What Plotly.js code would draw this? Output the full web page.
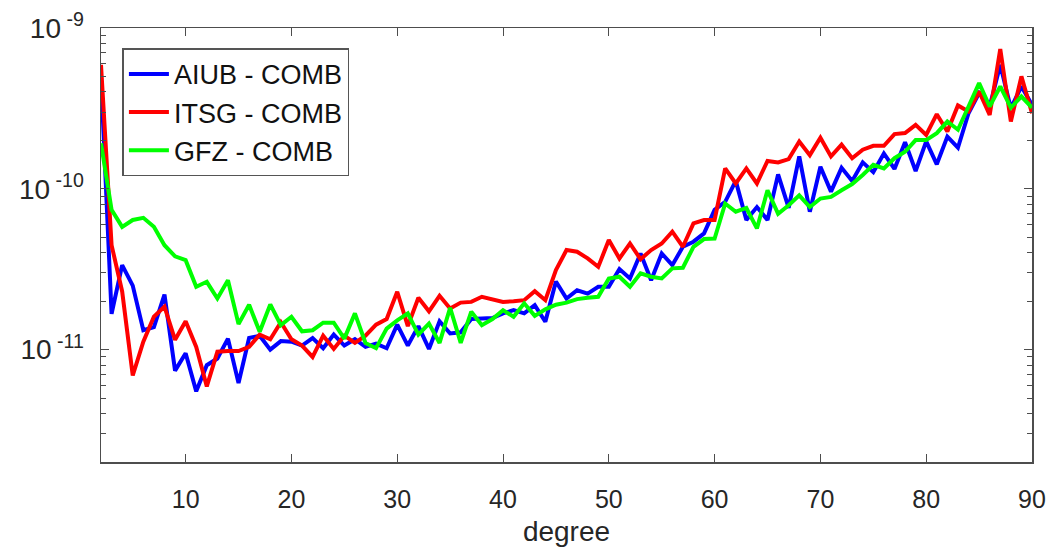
<!DOCTYPE html>
<html>
<head>
<meta charset="utf-8">
<script src="https://cdn.plot.ly/plotly-3.0.1.min.js"></script>
<style>html,body{margin:0;padding:0;background:#fff;}#chart{width:1048px;height:549px;}</style>
</head>
<body>
<div id="chart"></div>
<script>
const degrees = [];
for (let d = 2; d <= 90; d++) degrees.push(d);

const seriesNames = ["AIUB - COMB", "ITSG - COMB", "GFZ - COMB"];
const seriesColors = ["#0000ff", "#ff0000", "#00ff00"];

const aiub = [
  5.0e-10, 1.67e-11, 3.35e-11, 2.5e-11, 1.32e-11, 1.38e-11, 2.2e-11, 7.4e-12, 9.5e-12,
  5.5e-12, 8.0e-12, 8.8e-12, 1.17e-11, 6.2e-12, 1.18e-11, 1.22e-11, 1.0e-11, 1.13e-11,
  1.12e-11, 1.06e-11, 1.18e-11, 1.02e-11, 1.24e-11, 1.06e-11, 1.16e-11, 1.04e-11, 1.09e-11,
  1.02e-11, 1.43e-11, 1.06e-11, 1.40e-11, 1.01e-11, 1.5e-11, 1.26e-11, 1.28e-11, 1.55e-11,
  1.56e-11, 1.57e-11, 1.68e-11, 1.76e-11, 1.68e-11, 1.89e-11, 1.49e-11, 2.65e-11, 2.08e-11,
  2.34e-11, 2.23e-11, 2.46e-11, 2.46e-11, 3.17e-11, 2.77e-11, 3.96e-11, 2.7e-11, 3.96e-11,
  3.35e-11, 4.36e-11, 4.69e-11, 5.28e-11, 7.4e-11, 8.3e-11, 1.12e-10, 6.4e-11, 7.7e-11,
  6.4e-11, 1.23e-10, 7.6e-11, 1.59e-10, 7.2e-11, 1.37e-10, 9.6e-11, 1.35e-10, 1.12e-10,
  1.46e-10, 1.27e-10, 1.66e-10, 1.33e-10, 1.95e-10, 1.29e-10, 1.97e-10, 1.42e-10, 2.11e-10,
  1.8e-10, 2.95e-10, 3.94e-10, 3.25e-10, 5.9e-10, 3.17e-10, 4.33e-10, 3.33e-10
];

const itsg = [
  5.9e-10, 4.46e-11, 2.3e-11, 6.9e-12, 1.12e-11, 1.6e-11, 1.85e-11, 1.15e-11, 1.5e-11,
  1.04e-11, 5.9e-12, 9.7e-12, 9.8e-12, 9.8e-12, 1.04e-11, 1.24e-11, 1.16e-11, 1.48e-11,
  1.16e-11, 1.06e-11, 9.0e-12, 1.22e-11, 1.01e-11, 1.22e-11, 1.1e-11, 1.22e-11, 1.43e-11,
  1.55e-11, 2.29e-11, 1.40e-11, 2.1e-11, 1.73e-11, 2.16e-11, 1.8e-11, 1.96e-11, 1.98e-11,
  2.13e-11, 2.06e-11, 1.98e-11, 2.0e-11, 2.03e-11, 2.31e-11, 2.03e-11, 3.12e-11, 4.16e-11,
  4.06e-11, 3.69e-11, 3.27e-11, 4.8e-11, 3.69e-11, 4.57e-11, 3.65e-11, 4.16e-11, 4.57e-11,
  5.41e-11, 4.36e-11, 6.1e-11, 6.4e-11, 6.4e-11, 1.34e-10, 1.08e-10, 1.34e-10, 1.08e-10,
  1.49e-10, 1.46e-10, 1.53e-10, 1.97e-10, 1.62e-10, 2.08e-10, 1.59e-10, 1.88e-10, 1.55e-10,
  1.75e-10, 1.85e-10, 1.85e-10, 2.19e-10, 2.22e-10, 2.5e-10, 2.16e-10, 2.91e-10, 2.27e-10,
  3.3e-10, 3.03e-10, 4.03e-10, 2.88e-10, 7.4e-10, 2.62e-10, 5.0e-10, 2.95e-10
];

const gfz = [
  1.92e-10, 7.4e-11, 5.8e-11, 6.4e-11, 6.6e-11, 5.8e-11, 4.46e-11, 3.8e-11, 3.6e-11,
  2.46e-11, 2.64e-11, 2.08e-11, 2.7e-11, 1.44e-11, 1.9e-11, 1.29e-11, 1.91e-11, 1.42e-11,
  1.6e-11, 1.3e-11, 1.32e-11, 1.47e-11, 1.47e-11, 1.17e-11, 1.68e-11, 1.1e-11, 1.02e-11,
  1.35e-11, 1.52e-11, 1.68e-11, 1.24e-11, 1.45e-11, 1.1e-11, 1.82e-11, 1.1e-11, 1.72e-11,
  1.42e-11, 1.55e-11, 1.76e-11, 1.6e-11, 1.94e-11, 1.62e-11, 1.78e-11, 1.9e-11, 1.96e-11,
  2.06e-11, 2.1e-11, 2.13e-11, 2.77e-11, 2.84e-11, 2.46e-11, 2.98e-11, 2.84e-11, 2.77e-11,
  3.2e-11, 3.23e-11, 4.36e-11, 4.87e-11, 4.9e-11, 8.1e-11, 7.2e-11, 7.6e-11, 5.67e-11,
  9.8e-11, 7.0e-11, 7.9e-11, 9.1e-11, 7.7e-11, 8.7e-11, 8.9e-11, 9.8e-11, 1.07e-10,
  1.22e-10, 1.41e-10, 1.34e-10, 1.55e-10, 1.7e-10, 2.01e-10, 2.01e-10, 2.22e-10, 2.62e-10,
  2.33e-10, 3.25e-10, 4.54e-10, 3.25e-10, 4.33e-10, 3.2e-10, 3.75e-10, 3.2e-10
];

const xTickVals = [10, 20, 30, 40, 50, 60, 70, 80, 90];
const yTickVals = [1e-11, 1e-10, 1e-9];
const yTickText = ["10<sup> -11</sup>", "10<sup> -10</sup>", "10<sup> -9</sup>"];

const allSeries = [aiub, itsg, gfz];
const traces = allSeries.map((vals, i) => ({
  x: degrees,
  y: vals,
  type: "scatter",
  mode: "lines",
  name: seriesNames[i],
  line: {color: seriesColors[i], width: 4}
}));

const axisColor = "#4d4d4d";
const fontFam = "Liberation Sans, Arial, Helvetica, sans-serif";

const layout = {
  width: 1048,
  height: 549,
  margin: {l: 101, r: 16, t: 28, b: 87},
  paper_bgcolor: "#ffffff",
  plot_bgcolor: "#ffffff",
  font: {family: fontFam, color: "#262626", size: 24},
  showlegend: true,
  legend: {
    x: 0.023, y: 0.953, xanchor: "left", yanchor: "top",
    bgcolor: "#ffffff", bordercolor: "#555555", borderwidth: 1.5,
    font: {family: fontFam, size: 27, color: "#111111"},
    itemwidth: 40,
    tracegroupgap: 0
  },
  xaxis: {
    range: [2, 90],
    tickmode: "array",
    tickvals: xTickVals,
    ticks: "inside",
    ticklen: 8,
    tickwidth: 1,
    tickcolor: axisColor,
    showline: true,
    linecolor: axisColor,
    linewidth: 1.5,
    mirror: "ticks",
    showgrid: false,
    zeroline: false,
    ticklabelstandoff: 14,
    tickfont: {family: fontFam, size: 25, color: "#262626"},
    title: {text: "degree", font: {family: fontFam, size: 28, color: "#262626"}, standoff: 10}
  },
  yaxis: {
    type: "log",
    range: [Math.log10(2e-12), -9],
    tickmode: "array",
    tickvals: yTickVals,
    ticktext: yTickText,
    ticks: "inside",
    ticklen: 8,
    tickwidth: 1,
    tickcolor: axisColor,
    minor: {ticks: "inside", ticklen: 5, tickcolor: axisColor, dtick: "D1", showgrid: false},
    showline: true,
    linecolor: axisColor,
    linewidth: 1.5,
    mirror: "ticks",
    showgrid: false,
    zeroline: false,
    ticklabelstandoff: 10,
    tickfont: {family: fontFam, size: 28, color: "#262626"}
  }
};

Plotly.newPlot("chart", traces, layout, {displayModeBar: false, staticPlot: true});
</script>
</body>
</html>
